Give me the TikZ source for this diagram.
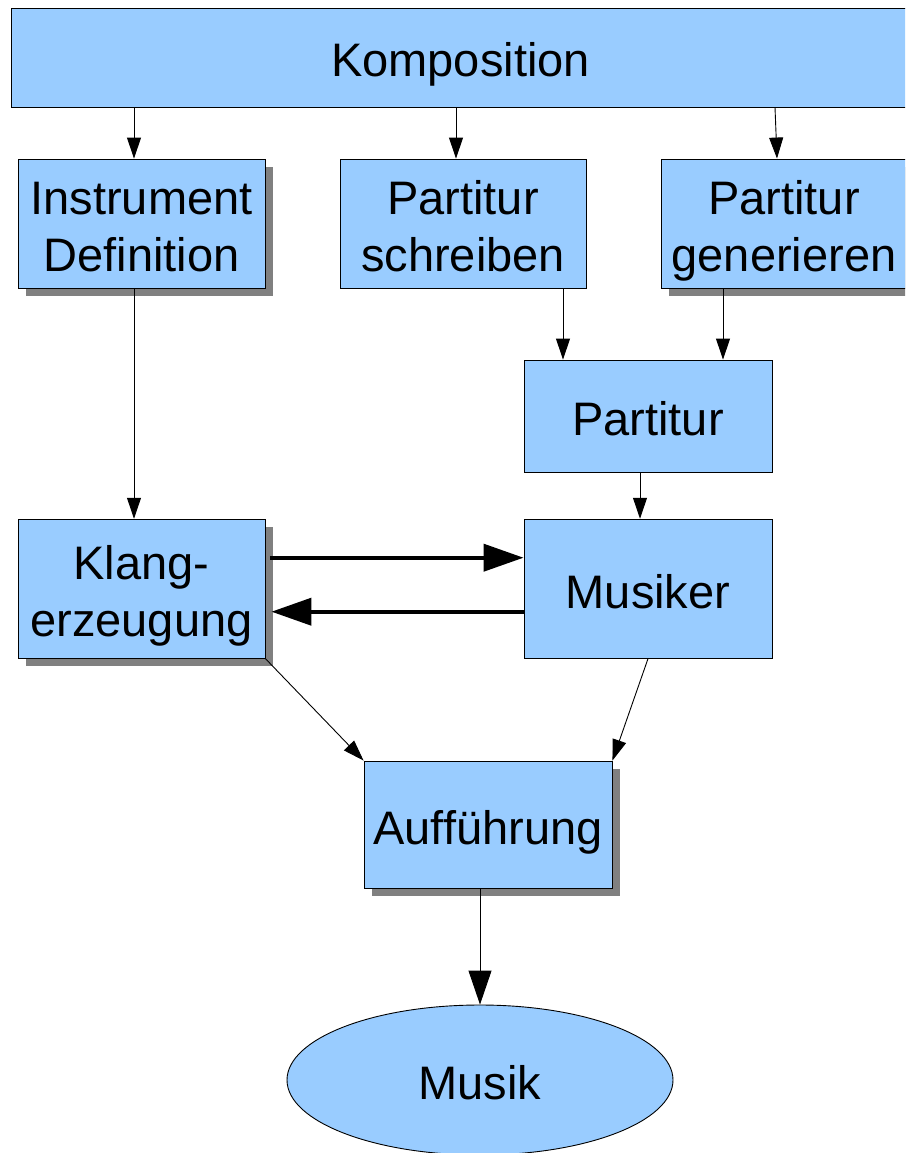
\documentclass[tikz,border=0pt]{standalone}
\usepackage{fontspec}
\setmainfont{Liberation Sans}
\usetikzlibrary{arrows.meta,shapes.geometric,shadows}
\definecolor{boxblue}{HTML}{99CCFF}
\definecolor{shadowgray}{HTML}{808080}
\begin{document}
\begin{tikzpicture}[x=1pt,y=-1pt,
  box/.style={draw=black,line width=0.9pt,fill=boxblue,inner sep=0pt,align=center,
    font=\fontsize{47}{57}\selectfont,minimum width=247pt,text height=40pt,text depth=1pt},
  two/.style={text height=96pt,text depth=1pt},
  shbox/.style={box,drop shadow={shadow xshift=8pt,shadow yshift=-8pt,fill=shadowgray,opacity=1}},
  thin/.style={line width=0.9pt,-{Triangle[length=21pt,width=14pt]}},
  thick/.style={line width=4pt,-{Triangle[length=40pt,width=27pt]}}]
\useasboundingbox (0,0) rectangle (905,1153);
\begin{scope}
\clip (0,0) rectangle (905,1153);
\node[box,minimum width=899pt,minimum height=99pt] (komp) at (460.5,57.5) {Komposition};
\node[shbox,two,minimum height=129pt] (inst) at (141.5,223.5) {Instrument\\Definition};
\node[box,two,minimum height=129pt,minimum width=246pt] (schr) at (463,223.5) {Partitur\\schreiben};
\node[shbox,two,minimum height=129pt,minimum width=246pt] (gen) at (784,223.5) {Partitur\\generieren};
\node[box,minimum height=112pt,minimum width=248pt] (part) at (648,416) {Partitur};
\node[shbox,two,minimum height=139pt] (klang) at (141.5,588.7) {Klang-\\erzeugung};
\node[box,minimum height=139pt,minimum width=248pt] (mus) at (648,588.7) {Musiker};
\node[shbox,minimum height=127pt,minimum width=248pt] (auff) at (488,824.5) {Aufführung};
\node[ellipse,draw=black,line width=0.9pt,fill=boxblue,inner sep=0pt,minimum width=386pt,minimum height=150pt,
  font=\fontsize{47}{57}\selectfont,text height=40pt,text depth=1pt] (musik) at (480,1080) {Musik};

\draw[thin] ([xshift=-7.5pt]komp.south -| inst.north) -- ([xshift=-7.5pt]inst.north);
\draw[thin] ([xshift=-7pt]komp.south -| schr.north) -- ([xshift=-7pt]schr.north);
\draw[thin] ([xshift=-9pt]komp.south -| gen.north) -- ([xshift=-7pt]gen.north);
\draw[thin] ([xshift=-85pt]part.north |- schr.south) -- ([xshift=-85pt]part.north);
\draw[thin] ([xshift=75pt]part.north |- gen.south) -- ([xshift=75pt]part.north);
\draw[thin] ([xshift=-7.5pt]inst.south) -- ([xshift=-7.5pt]klang.north);
\draw[thin] ([xshift=-8pt]part.south) -- ([xshift=-8pt]mus.north);
\draw[thick] ([xshift=5pt,yshift=31pt]klang.east) -- ([yshift=31pt]klang.east -| mus.west);
\draw[thick] ([yshift=-23pt]klang.east -| mus.west) -- ([xshift=6pt,yshift=-23pt]klang.east);
\draw[thin] (klang.south east) -- (auff.north west);
\draw[thin] (mus.south) -- (auff.north east);
\draw[line width=0.9pt,-{Triangle[length=34pt,width=23pt]}] ([xshift=-8pt]auff.south) -- (musik.north);
\end{scope}
\end{tikzpicture}
\end{document}
